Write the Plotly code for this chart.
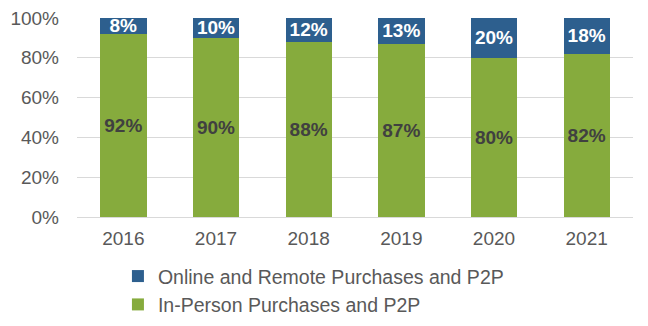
import plotly.graph_objects as go

years = ["2016", "2017", "2018", "2019", "2020", "2021"]
in_person = [92, 90, 88, 87, 80, 82]
online = [8, 10, 12, 13, 20, 18]
y_ticks = [0, 20, 40, 60, 80, 100]
y_tick_labels = ["0%", "20%", "40%", "60%", "80%", "100%"]

FONT = "Liberation Sans, Arial, sans-serif"
GREEN = "#86AB3D"
BLUE = "#2D5F8E"

fig = go.Figure()
fig.add_trace(go.Bar(
    x=years, y=in_person, name="In-Person Purchases and P2P",
    legendgroup="a",
    marker=dict(color=GREEN, line=dict(width=0)),
    text=[f"{v}%" for v in in_person], textposition="inside",
    insidetextanchor="middle", constraintext="none",
    textfont=dict(family=FONT, size=19, color="#404040", weight="bold"),
))
fig.add_trace(go.Bar(
    x=years, y=online, name="Online and Remote Purchases and P2P",
    legendgroup="b",
    marker=dict(color=BLUE, line=dict(width=0)),
    text=[f"{v}%" for v in online], textposition="inside",
    insidetextanchor="middle", constraintext="none",
    textfont=dict(family=FONT, size=19, color="white", weight="bold"),
))

fig.update_layout(
    barmode="stack", bargap=0.5,
    width=648, height=326,
    margin=dict(l=77, r=15, t=18, b=109, autoexpand=False),
    paper_bgcolor="white", plot_bgcolor="white",
    font=dict(family=FONT, size=19, color="#595959"),
    showlegend=True,
    legend=dict(
        orientation="v", traceorder="reversed",
        x=0.182, xanchor="left", xref="container",
        y=0.212, yanchor="top", yref="container",
        font=dict(family=FONT, size=19.5, color="#595959"),
        itemwidth=30, tracegroupgap=8,
    ),
    xaxis=dict(showgrid=False, showline=False, ticks="", tickfont=dict(size=19),
               ticklabelstandoff=8),
    yaxis=dict(range=[0, 100], tickvals=y_ticks, ticktext=y_tick_labels,
               showgrid=True, gridcolor="#D9D9D9", gridwidth=1,
               zeroline=True, zerolinecolor="#D9D9D9", zerolinewidth=1,
               showline=False, ticks="", tickfont=dict(size=19),
               ticklabelstandoff=17),
    uniformtext=dict(mode=False),
)

fig.write_html("out.html")
